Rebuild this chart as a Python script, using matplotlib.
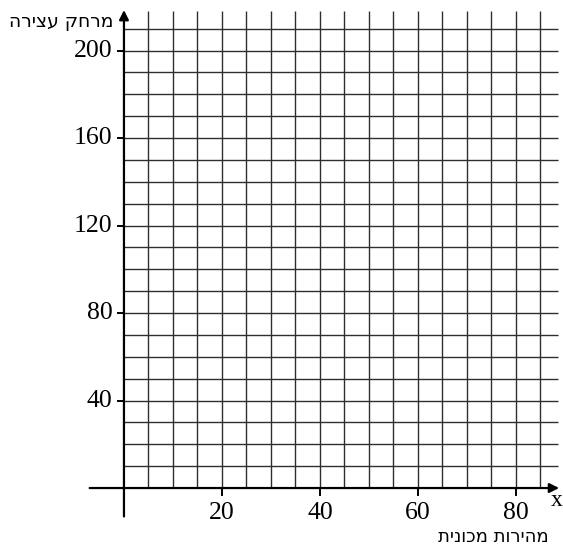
import matplotlib
matplotlib.use("Agg")
import matplotlib.pyplot as plt
import numpy as np

# Data
x_grid = list(range(5, 90, 5))          # vertical grid lines
y_grid = list(range(10, 220, 10))       # horizontal grid lines
x_ticks = [20, 40, 60, 80]
y_ticks = [40, 80, 120, 160, 200]
y_label = "מרחק עצירה"
x_label = "מהירות מכונית"

def rtl(s):
    return s[::-1]

fig = plt.figure(figsize=(5.63, 5.46), dpi=100)
ax = fig.add_axes([0, 0, 1, 1])
ax.set_xlim(-25.3, 89.6)
ax.set_ylim(-26.5, 223.1)
ax.axis("off")

grid_col = "#2e2e2e"
ax.vlines(x_grid, 0, 218, color=grid_col, lw=1.0)
ax.hlines(y_grid, 0, 88.5, color=grid_col, lw=1.0)

# axes
ax.annotate("", xy=(88.8, 0), xytext=(-7, 0),
            arrowprops=dict(arrowstyle="-|>", color="black", lw=1.6,
                            mutation_scale=14, shrinkA=0, shrinkB=0))
ax.annotate("", xy=(0, 218.5), xytext=(0, -13),
            arrowprops=dict(arrowstyle="-|>", color="black", lw=1.6,
                            mutation_scale=14, shrinkA=0, shrinkB=0))

serif = "Liberation Serif"
for xt in x_ticks:
    ax.plot([xt, xt], [0, -3], color="black", lw=1.4)
    ax.text(xt, -11.6, str(xt), ha="center", va="center", fontsize=18.5, family=serif)
for yt in y_ticks:
    ax.plot([-1.2, 0], [yt, yt], color="black", lw=1.4)
    ax.text(-2.3, yt, str(yt), ha="right", va="center", fontsize=18.5, family=serif)

ax.text(88.3, -5.8, "x", ha="center", va="center", fontsize=17, family=serif)
ax.text(-2.2, 213.3, rtl(y_label), ha="right", va="center", fontsize=13.5,
        family="DejaVu Sans")
ax.text(86.7, -22.6, rtl(x_label), ha="right", va="center", fontsize=13,
        family="DejaVu Sans")

fig.savefig("out.png", dpi=100)
